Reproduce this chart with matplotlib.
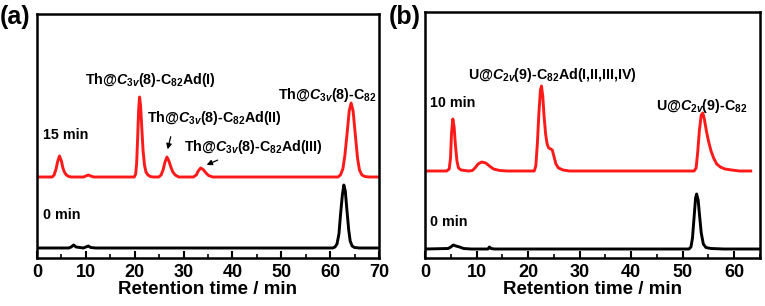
import matplotlib
matplotlib.use("Agg")
import matplotlib.pyplot as plt
from matplotlib.ticker import MultipleLocator

plt.rcParams['font.family'] = ['Liberation Sans', 'DejaVu Sans']
plt.rcParams['font.weight'] = 'bold'
plt.rcParams['mathtext.fontset'] = 'custom'
plt.rcParams['mathtext.rm'] = 'Liberation Sans:bold'
plt.rcParams['mathtext.it'] = 'Liberation Sans:bold:italic'
plt.rcParams['mathtext.bf'] = 'Liberation Sans:bold'

# ---- Panel (a): Th@C3v(8)-C82 ----
a_red_t = [0, 3.1, 3.5, 3.9, 4.2, 4.6, 5.0, 5.3, 5.6, 6.0, 6.5, 7.0, 9.5, 10.0, 10.5, 11.0, 11.6,
           19.9, 20.2, 20.4, 20.6, 20.8, 21.0, 21.2, 21.45, 21.7, 22.0, 22.3, 22.7, 23.2, 23.8,
           24.9, 25.4, 25.8, 26.2, 26.6, 27.0, 27.4, 27.8, 28.3, 29.0,
           32.0, 32.6, 33.0, 33.5, 34.0, 34.5, 35.1, 36.0,
           61.6, 62.1, 62.6, 63.0, 63.5, 63.9, 64.3, 64.7, 65.1, 65.6, 66.0, 66.5, 67.1, 68.0, 70.0]
a_red_y = [81, 81, 83, 89, 96, 102, 97, 90, 86, 83, 81.5, 81, 81, 82, 83, 82, 81,
           81, 84, 95, 120, 148, 161, 152, 130, 108, 93, 86, 83, 81.5, 81,
           81, 83, 88, 96, 101, 97, 91, 86, 83, 81,
           81, 83, 87, 90, 88.5, 85.5, 82.5, 81,
           81, 83, 89, 102, 126, 147, 155, 147, 126, 100, 88, 83, 81.5, 81, 81]
a_blk_t = [0, 6.5, 7.0, 7.5, 8.0, 9.5, 10.0, 10.5, 11.0, 12.0, 60.5, 61.0, 61.4, 61.8, 62.1, 62.5,
           62.8, 63.1, 63.45, 63.8, 64.1, 64.5, 65.0, 66.0, 70.0]
a_blk_y = [10, 10, 11, 13, 11, 10, 11, 12, 10.5, 10, 10, 11, 14, 24, 42, 63,
           73, 67, 47, 28, 17, 12, 10.5, 10, 10]

# ---- Panel (b): U@C2v(9)-C82 ----
b_red_t = [0.5, 4.2, 4.7, 4.95, 5.15, 5.4, 5.65, 5.9, 6.2, 6.5, 7.0, 8.5, 9.2, 9.7, 10.3, 11.0, 11.8,
           12.5, 13.3, 14.5, 16.0, 21.2, 21.5, 21.8, 22.1, 22.4, 22.6, 22.85, 23.1, 23.4, 23.7, 24.0,
           24.4, 24.7, 25.0, 25.4, 25.9, 26.8, 28.0, 52.2, 52.6, 52.9, 53.25, 53.6, 53.9, 54.2, 54.6,
           55.0, 55.5, 56.0, 56.6, 57.3, 58.2, 59.5, 61.0, 63.2]
b_red_y = [87, 87, 89, 100, 125, 139, 131, 113, 97, 90, 88, 87, 87.5, 90, 94, 96, 95,
           92, 89, 87.5, 87, 87, 92, 114, 145, 168, 172, 162, 142, 124, 114, 110,
           109, 108, 102, 94, 90, 88, 87, 87, 90, 105, 128, 143, 145, 139, 127,
           117, 107, 100, 94, 91, 89, 88, 87, 87]
b_blk_t = [0, 4.5, 5.0, 5.5, 6.0, 6.7, 7.5, 9.0, 12.2, 12.5, 12.8, 13.5, 51.2, 51.6, 51.9, 52.2,
           52.5, 52.7, 53.0, 53.3, 53.6, 54.0, 54.5, 55.5, 58.0, 65.0]
b_blk_y = [9, 9.5, 11, 13, 12, 11, 9.5, 9, 9, 11, 9.5, 9, 9, 11, 20, 40,
           60, 64, 58, 41, 25, 14, 10.5, 9.5, 9, 9]

xlabel = "Retention time / min"

fig = plt.figure(figsize=(7.65, 3.06), dpi=100)
axa = fig.add_axes([37/765, 48/306, (379-37)/765, (258-14)/306])
axb = fig.add_axes([425/765, 48/306, (760-425)/765, (258-12)/306])

RED = '#ff1a1a'
LW = 2.1
axa.plot(a_red_t, a_red_y, color=RED, lw=LW)
axa.plot(a_blk_t, a_blk_y, color='black', lw=LW)
axb.plot(b_red_t, b_red_y, color=RED, lw=LW)
axb.plot(b_blk_t, b_blk_y, color='black', lw=LW)

axa.set_xlim(0, 70)
axa.set_ylim(0, 244)
axb.set_xlim(0, 65)
axb.set_ylim(0, 246)

for ax in (axa, axb):
    ax.set_yticks([])
    ax.xaxis.set_major_locator(MultipleLocator(10))
    ax.xaxis.set_minor_locator(MultipleLocator(5))
    ax.tick_params(axis='x', which='major', direction='in', length=5, width=1.5,
                   labelsize=13, pad=4)
    ax.tick_params(axis='x', which='minor', direction='in', length=3, width=1.2)
    for lab in ax.get_xticklabels():
        lab.set_fontweight('bold')
    for s in ax.spines.values():
        s.set_linewidth(1.8)
    ax.set_xlabel(xlabel, fontsize=13.5, fontweight='bold', labelpad=0)

fs = 10.3
# Panel (a) annotations
fig.text(0/765, 1 - 17/306, '(a)', fontsize=18, fontweight='bold', va='center', ha='left')
fig.text(150/765, 1 - 80/306, r'Th@$C_{3v}$(8)-C$_{82}$Ad(I)', fontsize=fs, ha='center', va='center', fontweight='bold')
fig.text(214/765, 1 - 118/306, r'Th@$C_{3v}$(8)-C$_{82}$Ad(II)', fontsize=fs, ha='center', va='center', fontweight='bold')
fig.text(253/765, 1 - 147/306, r'Th@$C_{3v}$(8)-C$_{82}$Ad(III)', fontsize=fs, ha='center', va='center', fontweight='bold')
fig.text(327/765, 1 - 95/306, r'Th@$C_{3v}$(8)-C$_{82}$', fontsize=fs, ha='center', va='center', fontweight='bold')
fig.text(43/765, 1 - 135/306, '15 min', fontsize=fs, ha='left', va='center', fontweight='bold')
fig.text(43/765, 1 - 215/306, '0 min', fontsize=fs, ha='left', va='center', fontweight='bold')
axa.annotate('', xy=(26.6, 106), xytext=(27.5, 124),
             arrowprops=dict(arrowstyle='-|>', color='black', lw=0.9, mutation_scale=8))
axa.annotate('', xy=(34.2, 92), xytext=(37.5, 99),
             arrowprops=dict(arrowstyle='-|>', color='black', lw=0.9, mutation_scale=8))

# Panel (b) annotations
fig.text(389/765, 1 - 17/306, '(b)', fontsize=18, fontweight='bold', va='center', ha='left')
fig.text(552/765, 1 - 75/306, r'U@$C_{2v}$(9)-C$_{82}$Ad(I,II,III,IV)', fontsize=fs, ha='center', va='center', fontweight='bold')
fig.text(702/765, 1 - 106/306, r'U@$C_{2v}$(9)-C$_{82}$', fontsize=fs, ha='center', va='center', fontweight='bold')
fig.text(430/765, 1 - 103/306, '10 min', fontsize=fs, ha='left', va='center', fontweight='bold')
fig.text(430/765, 1 - 222/306, '0 min', fontsize=fs, ha='left', va='center', fontweight='bold')

fig.savefig('out.png', dpi=100)
